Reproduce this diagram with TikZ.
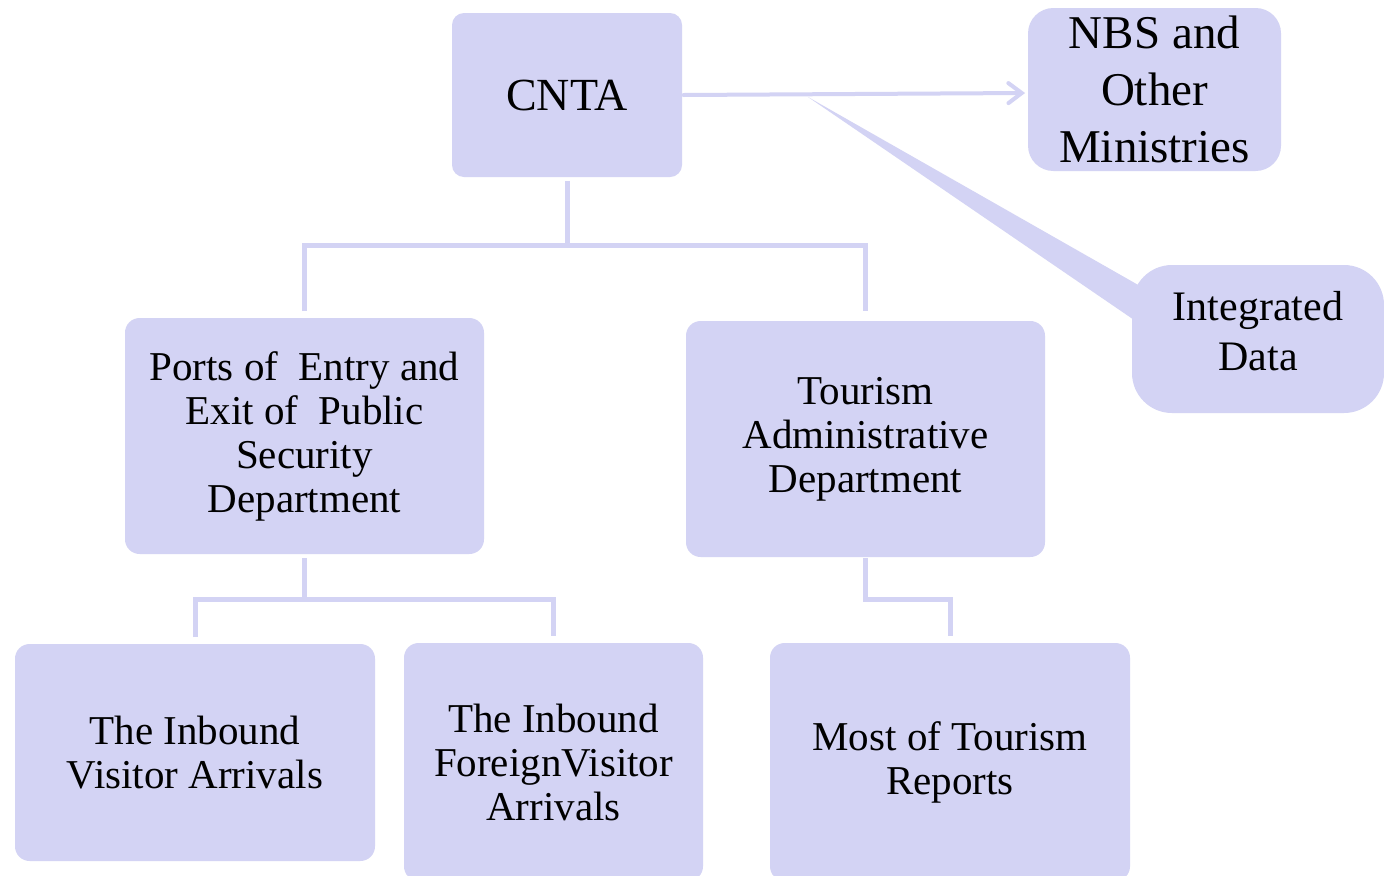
\documentclass[tikz,border=0pt]{standalone}
\usepackage{fontspec}
\setmainfont{Liberation Serif}
\usetikzlibrary{arrows.meta}
\definecolor{lav}{RGB}{211,211,244}
\tikzset{
  boxnode/.style={fill=lav, draw=none, rounded corners=11pt, align=center, inner sep=0pt, text=black},
  smalltext/.style={font=\fontsize{30.75}{33}\selectfont},
  conn/.style={draw=lav, line width=3.75pt},
}
\begin{document}
\begin{tikzpicture}[x=0.75pt, y=-0.75pt]
\clip (0,0) rectangle (1384,875);
\fill[white] (0,0) rectangle (1384,875);

\coordinate (tip) at (808,97);
\coordinate (tb1) at (1140,286);
\coordinate (tb2) at (1140,324);
\fill[lav] (tip) -- (tb1) -- (tb2) -- cycle;

\node[boxnode, rounded corners=9pt, minimum width=172.5pt, minimum height=123pt,
      font=\fontsize{34.5}{40}\selectfont] (cnta) at (567,95) {CNTA};
\node[boxnode, rounded corners=19pt, minimum width=189.75pt, minimum height=122.25pt,
      font=\fontsize{35.25}{42.75}\selectfont] (nbs) at (1154.5,89.5) {NBS and\\Other\\Ministries};
\node[boxnode, rounded corners=30pt, minimum width=189pt, minimum height=111pt,
      font=\fontsize{31.5}{38}\selectfont] (integ) at (1258,339)
  {Integrated\\Data\rule[-12pt]{0pt}{12pt}};

\node[boxnode, smalltext, minimum width=269.25pt, minimum height=177pt] (ports) at (304.5,436)
  {Ports of\ \ Entry and\\Exit of\ \ Public\\Security\\Department};
\node[boxnode, smalltext, minimum width=269.25pt, minimum height=177pt] (tad) at (865.5,439)
  {Tourism\\Administrative\\Department};
\node[boxnode, smalltext, minimum width=270pt, minimum height=162.75pt] (vis) at (195,752.5)
  {The Inbound\\Visitor\ Arrivals};
\node[boxnode, smalltext, minimum width=224.25pt, minimum height=178.5pt] (fvis) at (553.5,762)
  {The Inbound\\ForeignVisitor\\Arrivals};
\node[boxnode, smalltext, minimum width=270pt, minimum height=178.5pt] (most) at (950,762)
  {Most of Tourism\\Reports};

% arrow CNTA -> NBS
\draw[conn, line width=3pt, line cap=round, -{Straight Barb[length=10pt,width=15pt,line cap=round]}]
  ([xshift=1pt]cnta.east) -- ([xshift=-2pt]nbs.west |- 0,93);

% CNTA -> level 2
\draw[conn] ([yshift=-3pt]cnta.south) -- (cnta.south |- 0,245);
\draw[conn] (ports.north |- 0,311) -- (ports.north |- 0,245) -- (tad.north |- 0,245) -- (tad.north |- 0,311);

% Ports -> children
\draw[conn] ([yshift=-3pt]ports.south) -- (ports.south |- 0,599);
\draw[conn] ([yshift=5pt]vis.north) -- (vis.north |- 0,599) -- (fvis.north |- 0,599) -- ([yshift=5pt]fvis.north);

% Tourism -> Most
\draw[conn] (tad.south |- 0,558) -- (tad.south |- 0,599) -- (most.north |- 0,599) -- ([yshift=5pt]most.north);
\end{tikzpicture}
\end{document}
